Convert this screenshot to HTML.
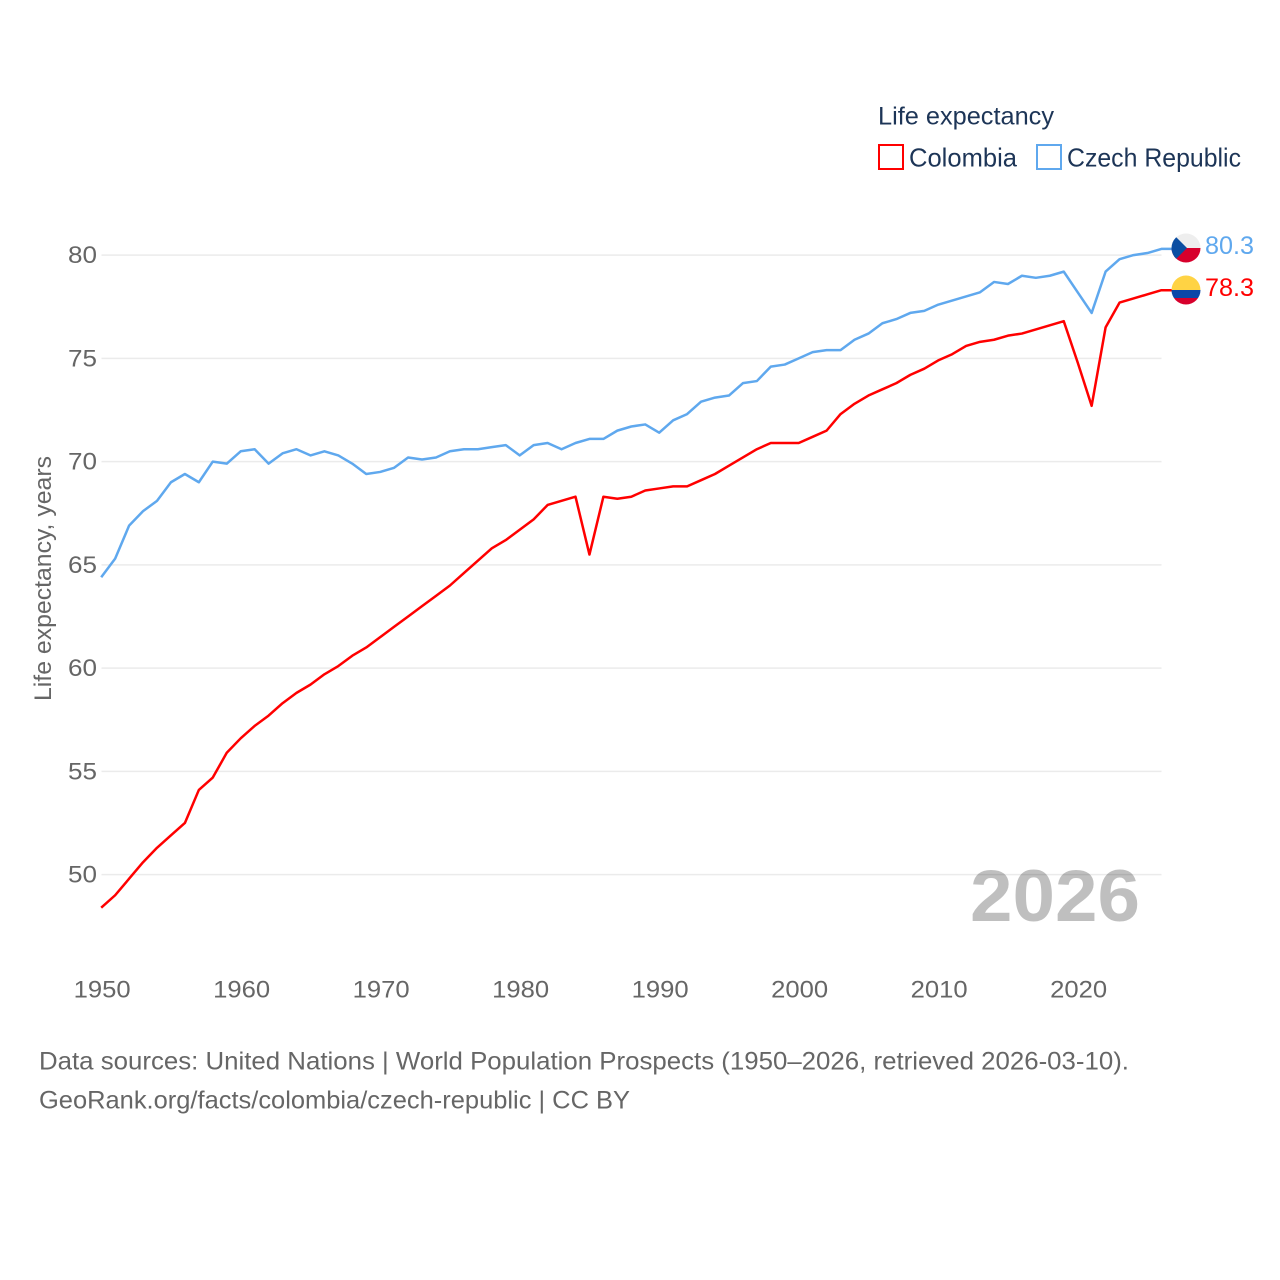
<!DOCTYPE html>
<html lang="en">
<head>
<meta charset="utf-8">
<title>Life expectancy: Colombia vs Czech Republic</title>
<style>
html,body{margin:0;padding:0;background:#fff;}
svg{display:block;font-family:"Liberation Sans",sans-serif;}
</style>
</head>
<body>
<svg id="chart" xmlns="http://www.w3.org/2000/svg" width="1280" height="1280" viewBox="0 0 1280 1280">
  <defs>
    <clipPath id="flag-clip-cz"><circle cx="1186" cy="248" r="14.5"/></clipPath>
    <clipPath id="flag-clip-co"><circle cx="1186" cy="290" r="14.5"/></clipPath>
  </defs>
  <rect width="1280" height="1280" fill="#fff"/>

  <g>
    <text x="878" y="124.5" font-size="25" fill="#1d3557" textLength="176" lengthAdjust="spacingAndGlyphs">Life expectancy</text>
    <rect x="879" y="145" width="24" height="24" fill="none" stroke="#ff0000" stroke-width="2"/>
    <text x="909" y="166.5" font-size="26" fill="#1d3557" textLength="108" lengthAdjust="spacingAndGlyphs">Colombia</text>
    <rect x="1037" y="145" width="24" height="24" fill="none" stroke="#5fa8ee" stroke-width="2"/>
    <text x="1067" y="166.5" font-size="26" fill="#1d3557" textLength="174" lengthAdjust="spacingAndGlyphs">Czech Republic</text>
  </g>

  <g id="grid"></g>
  <g id="yticks"></g>
  <g id="xticks"></g>

  <text transform="translate(51,701) rotate(-90)" font-size="24" fill="#666" textLength="245" lengthAdjust="spacingAndGlyphs">Life expectancy, years</text>
  <text x="970" y="921" font-size="73" font-weight="700" fill="#000" fill-opacity="0.25" textLength="170" lengthAdjust="spacingAndGlyphs">2026</text>

  <g id="series"></g>

  <g clip-path="url(#flag-clip-cz)">
    <rect x="1171" y="233" width="30" height="15" fill="#eeeeee"/>
    <rect x="1171" y="248" width="30" height="15" fill="#d7002c"/>
    <polygon points="1171,232 1187,248 1171,264" fill="#0b4ea2"/>
  </g>
  <g clip-path="url(#flag-clip-co)">
    <rect x="1171" y="275" width="30" height="15" fill="#ffd344"/>
    <rect x="1171" y="290" width="30" height="8" fill="#0c47a8"/>
    <rect x="1171" y="298" width="30" height="7" fill="#d7002c"/>
  </g>
  <text x="1205" y="254" font-size="25" fill="#5fa8ee" textLength="49" lengthAdjust="spacingAndGlyphs">80.3</text>
  <text x="1205" y="296" font-size="25" fill="#ff0000" textLength="49" lengthAdjust="spacingAndGlyphs">78.3</text>

  <g>
    <text x="39" y="1069.5" font-size="25" fill="#666" textLength="1090" lengthAdjust="spacingAndGlyphs">Data sources: United Nations | World Population Prospects (1950–2026, retrieved 2026-03-10).</text>
    <text x="39" y="1108.5" font-size="25" fill="#666" textLength="591" lengthAdjust="spacingAndGlyphs">GeoRank.org/facts/colombia/czech-republic | CC BY</text>
  </g>
</svg>
<script>
const startYear = 1950;
const colombiaValues = [48.4,49.0,49.8,50.6,51.3,51.9,52.5,54.1,54.7,55.9,56.6,57.2,57.7,58.3,58.8,59.2,59.7,60.1,60.6,61.0,61.5,62.0,62.5,63.0,63.5,64.0,64.6,65.2,65.8,66.2,66.7,67.2,67.9,68.1,68.3,65.5,68.3,68.2,68.3,68.6,68.7,68.8,68.8,69.1,69.4,69.8,70.2,70.6,70.9,70.9,70.9,71.2,71.5,72.3,72.8,73.2,73.5,73.8,74.2,74.5,74.9,75.2,75.6,75.8,75.9,76.1,76.2,76.4,76.6,76.8,74.8,72.7,76.5,77.7,77.9,78.1,78.3];
const czechValues = [64.4,65.3,66.9,67.6,68.1,69.0,69.4,69.0,70.0,69.9,70.5,70.6,69.9,70.4,70.6,70.3,70.5,70.3,69.9,69.4,69.5,69.7,70.2,70.1,70.2,70.5,70.6,70.6,70.7,70.8,70.3,70.8,70.9,70.6,70.9,71.1,71.1,71.5,71.7,71.8,71.4,72.0,72.3,72.9,73.1,73.2,73.8,73.9,74.6,74.7,75.0,75.3,75.4,75.4,75.9,76.2,76.7,76.9,77.2,77.3,77.6,77.8,78.0,78.2,78.7,78.6,79.0,78.9,79.0,79.2,78.2,77.2,79.2,79.8,80.0,80.1,80.3];
const yTickValues = [50,55,60,65,70,75,80];
const xTickValues = [1950,1960,1970,1980,1990,2000,2010,2020];

const SVG_NS = 'http://www.w3.org/2000/svg';
const xScale = function (year) { return 101.2 + (year - 1950) * 13.95; };
const yScale = function (v) { return 874.6 - (v - 50) * 20.65; };
const PLOT_LEFT = 101.5;
const PLOT_RIGHT = 1161.5;

const grid = document.getElementById('grid');
const yticks = document.getElementById('yticks');
const xticks = document.getElementById('xticks');
const series = document.getElementById('series');

yTickValues.forEach(function (v) {
  const line = document.createElementNS(SVG_NS, 'line');
  
  
  line.setAttribute('x1', PLOT_LEFT);
  line.setAttribute('x2', PLOT_RIGHT);
  line.setAttribute('y1', yScale(v));
  line.setAttribute('y2', yScale(v));
  line.setAttribute('stroke', '#ebebeb');
  line.setAttribute('stroke-width', '1.5');
  grid.appendChild(line);

  const label = document.createElementNS(SVG_NS, 'text');
  
  
  label.setAttribute('x', 68);
  label.setAttribute('y', yScale(v) + 8);
  label.setAttribute('font-size', '24');
  label.setAttribute('fill', '#666');
  label.setAttribute('textLength', '29');
  label.setAttribute('lengthAdjust', 'spacingAndGlyphs');
  label.textContent = String(v);
  yticks.appendChild(label);
});

xTickValues.forEach(function (year) {
  const label = document.createElementNS(SVG_NS, 'text');
  
  
  label.setAttribute('x', xScale(year) - 27.6);
  label.setAttribute('y', 997.5);
  label.setAttribute('font-size', '24');
  label.setAttribute('fill', '#666');
  label.setAttribute('textLength', '57');
  label.setAttribute('lengthAdjust', 'spacingAndGlyphs');
  label.textContent = String(year);
  xticks.appendChild(label);
});

function pathFor(values) {
  return values.map(function (v, i) {
    return (i ? 'L' : 'M') + xScale(startYear + i).toFixed(2) + ' ' + yScale(v).toFixed(2);
  }).join(' ');
}

const colombiaLast = colombiaValues[colombiaValues.length - 1];
const czechLast = czechValues[czechValues.length - 1];

const czechLine = document.createElementNS(SVG_NS, 'path');


czechLine.setAttribute('d', pathFor(czechValues) + ' L1172 ' + yScale(czechLast).toFixed(2));
czechLine.setAttribute('fill', 'none');
czechLine.setAttribute('stroke', '#5fa8ee');
czechLine.setAttribute('stroke-width', '2.5');
czechLine.setAttribute('stroke-linejoin', 'round');
series.appendChild(czechLine);

const colombiaLine = document.createElementNS(SVG_NS, 'path');


colombiaLine.setAttribute('d', pathFor(colombiaValues) + ' L1172 ' + yScale(colombiaLast).toFixed(2));
colombiaLine.setAttribute('fill', 'none');
colombiaLine.setAttribute('stroke', '#ff0000');
colombiaLine.setAttribute('stroke-width', '2.5');
colombiaLine.setAttribute('stroke-linejoin', 'round');
series.appendChild(colombiaLine);
</script>
</body>
</html>
